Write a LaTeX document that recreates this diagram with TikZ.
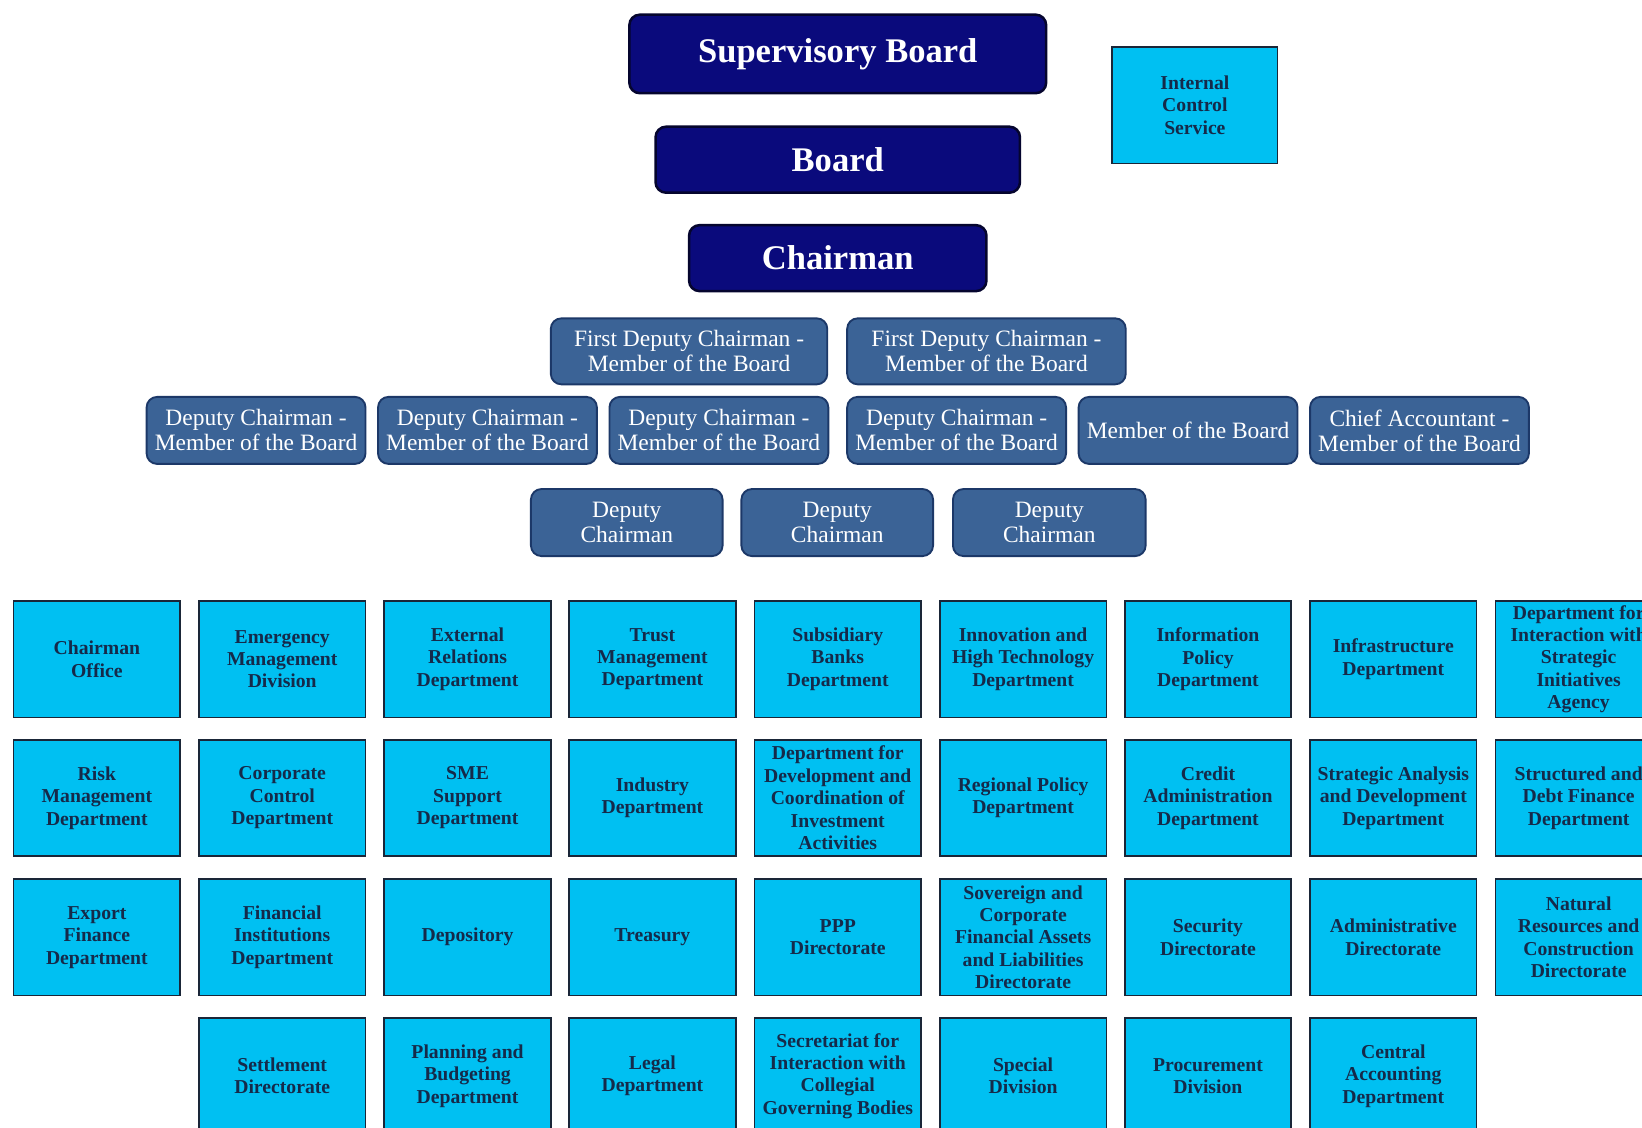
\documentclass[tikz,border=0pt]{standalone}
\usepackage{fontspec}
\setmainfont{Liberation Serif}
\definecolor{navybox}{HTML}{0A0A7C}
\definecolor{navyedge}{HTML}{05052E}
\definecolor{midfill}{HTML}{3B6396}
\definecolor{midedge}{HTML}{1C3868}
\definecolor{cyanbox}{HTML}{00C0F2}
\definecolor{cyanedge}{HTML}{1A2638}
\definecolor{depttext}{HTML}{152A4A}
\begin{document}
\begin{tikzpicture}[x=0.5pt,y=-0.5pt,
  topbox/.style={draw=navyedge, line width=1.2pt, fill=navybox, rounded corners=5pt,
    text=white, font=\fontsize{16.5}{18}\selectfont\bfseries, align=center, inner sep=0pt},
  midbox/.style={draw=midedge, line width=0.9pt, fill=midfill, rounded corners=5pt,
    text=white, font=\fontsize{11.2}{11.9}\selectfont, align=center, inner sep=0pt},
  dept/.style={draw=cyanedge, line width=0.8pt, fill=cyanbox, text=depttext,
    font=\fontsize{9.4}{10.7}\selectfont\bfseries, align=center, inner sep=0pt,
    minimum width=79.5pt, minimum height=55.5pt},
]
\fill[white] (0,0) rectangle (1568,1077);
\useasboundingbox (0,0) rectangle (1568,1077);
\clip (0,0) rectangle (1568,1077);

% top
\node[topbox, minimum width=199pt, minimum height=37.5pt] (sup) at (800,51.5) {Supervisory Board};
\node[topbox, minimum width=174pt, minimum height=31.5pt] (board) at (800,152.5) {Board};
\node[topbox, minimum width=142pt, minimum height=31.5pt] (chair) at (800,246.5) {Chairman};
\node[dept, minimum width=79pt, minimum height=55.5pt] (ics) at (1141,100.5) {Internal\\Control\\Service};

% first deputies
\node[midbox, minimum width=132pt, minimum height=31.5pt] (fd1) at (658,335.5) {First Deputy Chairman -\\Member of the Board};
\node[midbox, minimum width=133pt, minimum height=31.5pt] (fd2) at (942,335.5) {First Deputy Chairman -\\Member of the Board};

% deputies - members
\node[midbox, minimum width=104.5pt, minimum height=32pt] (dm1) at (244.5,411) {Deputy Chairman -\\Member of the Board};
\node[midbox, minimum width=104.5pt, minimum height=32pt] (dm2) at (465.5,411) {Deputy Chairman -\\Member of the Board};
\node[midbox, minimum width=104.5pt, minimum height=32pt] (dm3) at (686.5,411) {Deputy Chairman -\\Member of the Board};
\node[midbox, minimum width=104.5pt, minimum height=32pt] (dm4) at (913.5,411) {Deputy Chairman -\\Member of the Board};
\node[midbox, minimum width=104.5pt, minimum height=32pt] (dm5) at (1134.5,411) {Member of the Board};
\node[midbox, minimum width=104.5pt, minimum height=32pt] (dm6) at (1355.5,411) {Chief Accountant -\\Member of the Board};

% deputy chairmen
\node[midbox, minimum width=91.5pt, minimum height=32pt] (dc1) at (598.5,499) {Deputy\\Chairman};
\node[midbox, minimum width=91.5pt, minimum height=32pt] (dc2) at (799.5,499) {Deputy\\Chairman};
\node[midbox, minimum width=92pt, minimum height=32pt] (dc3) at (1002,499) {Deputy\\Chairman};

% row 1
\node[dept] (r1c1) at (92.5,629.5) {Chairman\\Office};
\node[dept] (r1c2) at (269.5,629.5) {Emergency\\Management\\Division};
\node[dept] (r1c3) at (446.5,629.5) {External\\Relations\\Department};
\node[dept] (r1c4) at (623,629.5) {Trust\\Management\\Department};
\node[dept] (r1c5) at (800,629.5) {Subsidiary\\Banks\\Department};
\node[dept] (r1c6) at (977,629.5) {Innovation and\\High Technology\\Department};
\node[dept] (r1c7) at (1153.5,629.5) {Information\\Policy\\Department};
\node[dept] (r1c8) at (1330.5,629.5) {Infrastructure\\Department};
\node[dept] (r1c9) at (1507.5,629.5) {Department for\\Interaction with\\Strategic\\Initiatives\\Agency};

% row 2
\node[dept] (r2c1) at (92.5,762) {Risk\\Management\\Department};
\node[dept] (r2c2) at (269.5,762) {Corporate\\Control\\Department};
\node[dept] (r2c3) at (446.5,762) {SME\\Support\\Department};
\node[dept] (r2c4) at (623,762) {Industry\\Department};
\node[dept] (r2c5) at (800,762) {Department for\\Development and\\Coordination of\\Investment\\Activities};
\node[dept] (r2c6) at (977,762) {Regional Policy\\Department};
\node[dept] (r2c7) at (1153.5,762) {Credit\\Administration\\Department};
\node[dept] (r2c8) at (1330.5,762) {Strategic Analysis\\and Development\\Department};
\node[dept] (r2c9) at (1507.5,762) {Structured and\\Debt Finance\\Department};

% row 3
\node[dept] (r3c1) at (92.5,895) {Export\\Finance\\Department};
\node[dept] (r3c2) at (269.5,895) {Financial\\Institutions\\Department};
\node[dept] (r3c3) at (446.5,895) {Depository};
\node[dept] (r3c4) at (623,895) {Treasury};
\node[dept] (r3c5) at (800,895) {PPP\\Directorate};
\node[dept] (r3c6) at (977,895) {Sovereign and\\Corporate\\Financial Assets\\and Liabilities\\Directorate};
\node[dept] (r3c7) at (1153.5,895) {Security\\Directorate};
\node[dept] (r3c8) at (1330.5,895) {Administrative\\Directorate};
\node[dept] (r3c9) at (1507.5,895) {Natural\\Resources and\\Construction\\Directorate};

% row 4
\node[dept] (r4c2) at (269.5,1027.5) {Settlement\\Directorate};
\node[dept] (r4c3) at (446.5,1027.5) {Planning and\\Budgeting\\Department};
\node[dept] (r4c4) at (623,1027.5) {Legal\\Department};
\node[dept] (r4c5) at (800,1027.5) {Secretariat for\\Interaction with\\Collegial\\Governing Bodies};
\node[dept] (r4c6) at (977,1027.5) {Special\\Division};
\node[dept] (r4c7) at (1153.5,1027.5) {Procurement\\Division};
\node[dept] (r4c8) at (1330.5,1027.5) {Central\\Accounting\\Department};
\end{tikzpicture}
\end{document}
